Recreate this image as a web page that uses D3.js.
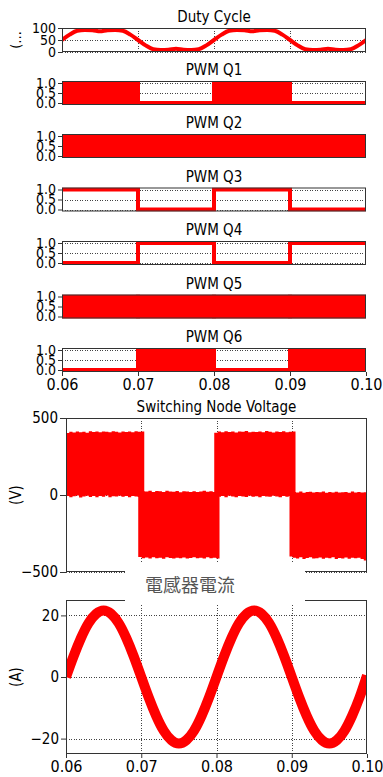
<!DOCTYPE html>
<html>
<head>
<meta charset="utf-8">
<script src="https://cdn.jsdelivr.net/npm/d3@7"></script>
<style>
  body { margin: 0; background: #fff; }
  svg { display: block; }
  text { font-family: "DejaVu Sans Condensed", "DejaVu Sans", sans-serif; fill: #000; }
</style>
</head>
<body>
<svg id="chart" width="383" height="777"></svg>
<script>
// ---- data ----
const timeTicks = [0.06, 0.07, 0.08, 0.09, 0.10];
const gridTimes = [0.07, 0.08, 0.09];

const sampleTimes = [0.060,0.061,0.062,0.063,0.064,0.065,0.066,0.067,0.068,0.069,
                     0.070,0.071,0.072,0.073,0.074,0.075,0.076,0.077,0.078,0.079,
                     0.080,0.081,0.082,0.083,0.084,0.085,0.086,0.087,0.088,0.089,
                     0.090,0.091,0.092,0.093,0.094,0.095,0.096,0.097,0.098,0.099,0.100];

// duty cycle in percent
const dutyCycle = [50,72.5,88.4,91.8,91.1,86.4,91.1,91.8,88.4,72.5,
                   50,27.5,11.6,8.2,8.9,13.6,8.9,8.2,11.6,27.5,
                   50,72.5,88.4,91.8,91.1,86.4,91.1,91.8,88.4,72.5,
                   50,27.5,11.6,8.2,8.9,13.6,8.9,8.2,11.6,27.5,50];

// inductor current in A
const inductorCurrent = [0,6.7,12.7,17.5,20.5,21.6,20.5,17.5,12.7,6.7,
                         0,-6.7,-12.7,-17.5,-20.5,-21.6,-20.5,-17.5,-12.7,-6.7,
                         0,6.7,12.7,17.5,20.5,21.6,20.5,17.5,12.7,6.7,
                         0,-6.7,-12.7,-17.5,-20.5,-21.6,-20.5,-17.5,-12.7,-6.7,0.5];

// gate signals: state of each interval between pwmEdges
const pwmEdges = [0.06, 0.07, 0.08, 0.09, 0.10];
const pwmQ1 = ["pwm", "low", "pwm", "low"];
const pwmQ2 = ["pwm", "pwm", "pwm", "pwm"];
const pwmQ3 = ["high", "low", "high", "low"];
const pwmQ4 = ["low", "high", "low", "high"];
const pwmQ5 = ["pwm", "pwm", "pwm", "pwm"];
const pwmQ6 = ["low", "pwm", "low", "pwm"];
const pwmTitles = ["PWM Q1", "PWM Q2", "PWM Q3", "PWM Q4", "PWM Q5", "PWM Q6"];
const pwmSignals = [pwmQ1, pwmQ2, pwmQ3, pwmQ4, pwmQ5, pwmQ6];

// switching node voltage blocks (V): start/end time and envelopes
const voltStart = [0.06, 0.0696, 0.0797, 0.0897];
const voltEnd   = [0.0704, 0.0804, 0.0905, 0.1];
const voltTop1 = [402,410,406,413,408,411,405,414,409,412,407,413,410,408,414,411,406,412,409,413,408,414,410,412];
const voltBot1 = [-6,-14,-8,-4,-16,-9,-5,-13,-7,-15,-6,-11,-4,-14,-8,-10,-5,-12,-7,-15,-6,-9,-13,-8];
const voltTop2 = [18,25,22,28,20,26,24,19,27,23,21,26,18,24,22,20,25,19,23,27,21,24,20,22];
const voltBot2 = [-402,-410,-406,-413,-404,-411,-408,-414,-405,-409,-412,-407,-410,-406,-413,-409,-404,-411,-407,-413,-405,-410,-408,-412];
const voltTop3 = [404,412,407,414,409,413,406,412,410,415,408,411,409,413,407,415,410,406,412,409,414,408,411,413];
const voltBot3 = [-4,-12,-7,-15,-5,-10,-14,-6,-9,-13,-5,-11,-8,-15,-6,-9,-12,-5,-10,-14,-7,-11,-6,-9];
const voltTop4 = [14,20,17,22,15,19,21,16,20,18,22,15,19,17,21,16,18,20,15,22,17,19,16,18];
const voltBot4 = [-400,-408,-412,-405,-415,-409,-404,-413,-410,-406,-414,-408,-411,-405,-416,-409,-412,-406,-414,-408,-411,-407,-416,-425];

const voltTicks = [-500, 0, 500];
const currentTicks = [-20, 0, 20];
const dutyTicks = [0, 50, 100];
const pwmTicks = [0, 0.5, 1.0];

// ---- drawing ----
const svg = d3.select("#chart");
const RED = "#ff0000";
const GRID = "#444";
const FONT = '"DejaVu Sans Condensed","DejaVu Sans",sans-serif';
let clipId = 0;

function makePanel(o) {
  const x = d3.scaleLinear().domain([0.06, 0.10]).range([o.left, o.right]);
  const y = d3.scaleLinear().domain(o.yDomain).range([o.bottom, o.top]);
  const g = svg.append("g");
  const id = "clip" + (clipId++);
  svg.append("clipPath").attr("id", id).append("rect")
    .attr("x", o.left).attr("y", o.top)
    .attr("width", o.right - o.left).attr("height", o.bottom - o.top);

  // dotted grid
  const grid = g.append("g").attr("stroke", GRID).attr("stroke-width", 1)
    .attr("stroke-dasharray", "1,1.5").attr("shape-rendering", "crispEdges");
  grid.selectAll(".v").data(gridTimes).join("line")
    .attr("x1", d => Math.round(x(d)) + 0.5).attr("x2", d => Math.round(x(d)) + 0.5)
    .attr("y1", o.top).attr("y2", o.bottom);
  grid.selectAll(".h").data(o.yTicks).join("line")
    .attr("x1", o.left).attr("x2", o.right)
    .attr("y1", d => Math.round(y(d)) + 0.5).attr("y2", d => Math.round(y(d)) + 0.5);

  const data = g.append("g").attr("clip-path", `url(#${id})`);

  // y axis
  const ya = g.append("g").attr("transform", `translate(${o.left},0)`)
    .call(d3.axisLeft(y).tickValues(o.yTicks).tickFormat(o.yFmt)
      .tickSize(o.tickLen).tickPadding(2).tickSizeOuter(0));
  ya.select(".domain").remove();
  ya.selectAll("line").attr("stroke", "#333");
  ya.selectAll("text").style("font-size", o.yFont + "px").style("font-family", FONT);

  if (o.xAxis) {
    const xa = g.append("g").attr("transform", `translate(0,${o.bottom})`)
      .call(d3.axisBottom(x).tickValues(timeTicks).tickFormat(d3.format(".2f"))
        .tickSize(4).tickPadding(3).tickSizeOuter(0));
    xa.select(".domain").remove();
    xa.selectAll("line").attr("stroke", "#333");
    xa.selectAll("text").style("font-size", "16px").style("font-family", FONT);
  }

  if (o.title) {
    g.append("text").attr("x", (o.left + o.right) / 2).attr("y", o.top - 6)
      .attr("text-anchor", "middle").style("font-size", o.titleFont + "px").text(o.title);
  }
  if (o.yLabel) {
    g.append("text")
      .attr("transform", `translate(${o.yLabelX},${(o.top + o.bottom) / 2}) rotate(-90)`)
      .attr("text-anchor", "middle").attr("dy", "0.35em")
      .style("font-size", o.yLabelFont + "px").text(o.yLabel);
  }
  return { x, y, g, data, border: () => {
    g.append("rect").attr("x", o.left + 0.5).attr("y", o.top + 0.5)
      .attr("width", o.right - o.left - 1).attr("height", o.bottom - o.top - 1)
      .attr("fill", "none").attr("stroke", "#333").attr("stroke-width", 1);
  }};
}

// small panels layout
const SL = 62, SR = 366, SH = 24;
const smallTops = [28, 81, 134, 187.5, 241, 294.5, 348];

// Duty cycle
{
  const p = makePanel({ left: SL, right: SR, top: smallTops[0], bottom: smallTops[0] + SH,
    yDomain: [0, 100], yTicks: dutyTicks, yFmt: d3.format("d"), tickLen: 4, yFont: 14,
    title: "Duty Cycle", titleFont: 15, yLabel: "(…", yLabelX: 16, yLabelFont: 14 });
  p.data.append("path").datum(dutyCycle)
    .attr("fill", "none").attr("stroke", RED).attr("stroke-width", 4)
    .attr("stroke-linejoin", "round")
    .attr("d", d3.line().x((d, i) => p.x(sampleTimes[i])).y(d => p.y(d)).curve(d3.curveMonotoneX));
  p.border();
}

// PWM panels
pwmSignals.forEach((sig, k) => {
  const top = smallTops[k + 1];
  const p = makePanel({ left: SL, right: SR, top, bottom: top + SH,
    yDomain: [-0.1, 1.1], yTicks: pwmTicks, yFmt: d3.format(".1f"), tickLen: 4, yFont: 14,
    title: pwmTitles[k], titleFont: 15, xAxis: k === 5 });
  // switching intervals appear as solid blocks between 0 and 1
  const segs = sig.map((s, i) => ({ s, t0: pwmEdges[i], t1: pwmEdges[i + 1] }));
  p.data.selectAll("rect.pwm").data(segs.filter(d => d.s === "pwm")).join("rect")
    .attr("x", d => p.x(d.t0)).attr("width", d => p.x(d.t1) - p.x(d.t0))
    .attr("y", p.y(1)).attr("height", p.y(0) - p.y(1))
    .attr("fill", RED).attr("stroke", RED).attr("stroke-width", 4);
  // steady levels drawn as a step line
  const pts = segs.map(d => ({ t: d.t0, v: d.s === "high" ? 1 : 0 }));
  pts.push({ t: pwmEdges[pwmEdges.length - 1], v: pts[pts.length - 1].v });
  p.data.append("path").datum(pts)
    .attr("fill", "none").attr("stroke", RED).attr("stroke-width", 4)
    .attr("d", d3.line().x(d => p.x(d.t)).y(d => p.y(d.v)).curve(d3.curveStepAfter));
  p.border();
});

// Switching node voltage
{
  const p = makePanel({ left: 66, right: 367, top: 418, bottom: 572,
    yDomain: [-500, 500], yTicks: voltTicks, yFmt: d3.format("d"), tickLen: 6, yFont: 15,
    title: "Switching Node Voltage", titleFont: 15, yLabel: "(V)", yLabelX: 16, yLabelFont: 15 });
  const tops = [voltTop1, voltTop2, voltTop3, voltTop4];
  const bots = [voltBot1, voltBot2, voltBot3, voltBot4];
  tops.forEach((tv, i) => {
    const tAt = d3.scaleLinear().domain([0, tv.length]).range([voltStart[i], voltEnd[i]]);
    const pts = tv.map((v, j) => ({ t: tAt(j), hi: v, lo: bots[i][j] }));
    pts.push({ t: voltEnd[i], hi: tv[tv.length - 1], lo: bots[i][tv.length - 1] });
    p.data.append("path").datum(pts).attr("fill", RED)
      .attr("d", d3.area().x(d => p.x(d.t)).y0(d => p.y(d.lo)).y1(d => p.y(d.hi)).curve(d3.curveStepAfter));
  });
  p.border();
}

// Inductor current
{
  const p = makePanel({ left: 66, right: 367, top: 600, bottom: 754,
    yDomain: [-25, 25], yTicks: currentTicks, yFmt: d3.format("d"), tickLen: 5, yFont: 15,
    xAxis: true, yLabel: "(A)", yLabelX: 16, yLabelFont: 15 });
  p.data.append("path").datum(inductorCurrent)
    .attr("fill", "none").attr("stroke", RED).attr("stroke-width", 10)
    .attr("stroke-linejoin", "round")
    .attr("d", d3.line().x((d, i) => p.x(sampleTimes[i])).y(d => p.y(d)).curve(d3.curveNatural));
  p.border();
}

// title box of the current panel sits over the neighbouring borders
svg.append("rect").attr("x", 125).attr("y", 563).attr("width", 180).attr("height", 41).attr("fill", "#fff");
svg.append("text").attr("x", 145).attr("y", 592)
  .style("font-family", '"Noto Sans CJK TC","Noto Sans CJK SC",sans-serif')
  .style("font-size", "18px").style("fill", "#555").text("電感器電流");
</script>
</body>
</html>
